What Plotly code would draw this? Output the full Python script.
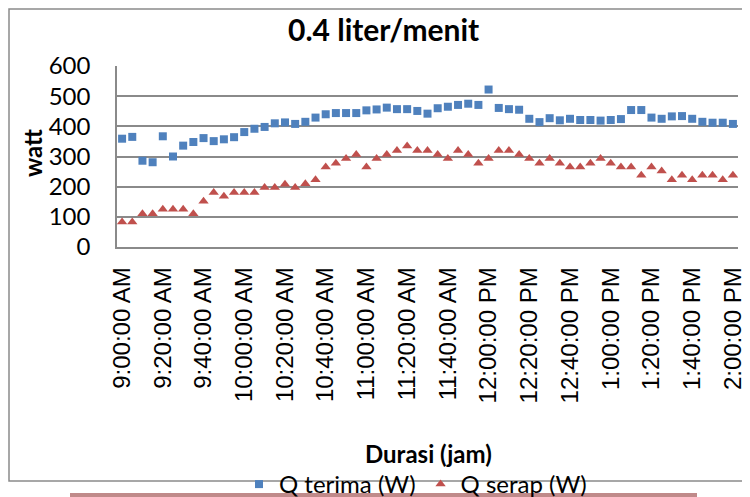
import plotly.graph_objects as go
import pandas as pd

# 5-minute samples, 9:00 AM to 2:00 PM
times = pd.date_range("2000-01-01 09:00", periods=61, freq="5min")

q_terima = [359, 365, 286, 281, 367, 300, 336, 348, 361, 351,
            357, 364, 381, 392, 398, 410, 413, 408, 415, 429,
            440, 444, 444, 444, 453, 456, 462, 457, 457, 451,
            442, 460, 465, 471, 475, 471, 522, 461, 457, 455,
            425, 414, 427, 420, 425, 421, 421, 419, 421, 424,
            454, 454, 429, 425, 433, 434, 425, 415, 412, 412, 408]

q_serap = [83, 83, 110, 110, 125, 125, 125, 110, 152, 181,
           168, 181, 181, 181, 197, 197, 208, 197, 210, 223,
           265, 278, 293, 307, 265, 293, 307, 320, 335, 320,
           320, 307, 293, 320, 307, 278, 293, 320, 320, 307,
           293, 278, 293, 278, 265, 265, 278, 293, 278, 265,
           265, 238, 265, 252, 223, 238, 223, 238, 238, 223, 238]

series_names = ["Q terima (W)", "Q serap (W)"]
y_ticks = [0, 100, 200, 300, 400, 500, 600]

# page has an 8px body margin, so the figure is 742x489 at (8, 8)
W, H, OFF = 742, 489, 8
# plot area in page pixels
L, R, T, B = 117, 738, 66, 247


def px_x(px):
    return (px - L) / (R - L)


def px_y(py):
    return (B - py) / (B - T)


fig = go.Figure()
fig.add_trace(go.Scatter(
    x=times, y=q_terima, mode="markers", name=series_names[0],
    marker=dict(symbol="square", size=8, color="#4F81BD"),
))
fig.add_trace(go.Scatter(
    x=times, y=q_serap, mode="markers", name=series_names[1],
    marker=dict(symbol="triangle-up", size=9, color="#C0504D"),
))

half = pd.Timedelta(minutes=2.5)
fig.update_xaxes(
    type="date", automargin=False,
    range=[times[0] - half, times[-1] + half],
    tick0=times[0], dtick=20 * 60 * 1000,
    tickformat="%-I:%M:%S %p", tickangle=-90,
    tickfont=dict(family="Liberation Sans, Arial", size=24, color="black"),
    ticklabelstandoff=9,
    showgrid=False, showline=True, linecolor="#8a8a8a", linewidth=1.5,
    zeroline=False,
)
fig.update_yaxes(
    automargin=False,
    range=[0, 600], tickvals=y_ticks,
    tickfont=dict(family="Lato", size=24, color="black"),
    ticklabelstandoff=20,
    showgrid=True, gridcolor="#8a8a8a", gridwidth=1.5,
    showline=True, linecolor="#8a8a8a", linewidth=1.5,
    zeroline=False,
)

fig.update_layout(
    width=W, height=H,
    margin=dict(l=L - OFF, r=W - (R - OFF), t=T - OFF, b=H - (B - OFF),
                autoexpand=False),
    paper_bgcolor="white", plot_bgcolor="white",
    showlegend=True,
    legend=dict(
        orientation="h", x=px_x(239), xanchor="left",
        y=px_y(462), yanchor="top",
        font=dict(family="Lato", size=24, color="black"),
        bgcolor="rgba(0,0,0,0)",
    ),
    annotations=[
        dict(text="<b>0.4 liter/menit</b>", x=px_x(383), y=px_y(29),
             xanchor="center", yanchor="middle",
             xref="paper", yref="paper", showarrow=False,
             font=dict(family="Lato", size=30, color="black")),
        dict(text="<b>watt</b>", x=px_x(32), y=px_y(153),
             xanchor="center", yanchor="middle",
             xref="paper", yref="paper", showarrow=False, textangle=-90,
             font=dict(family="Lato", size=24, color="black")),
        dict(text="<b>Durasi (jam)</b>", x=px_x(428), y=px_y(453),
             xanchor="center", yanchor="middle",
             xref="paper", yref="paper", showarrow=False,
             font=dict(family="Lato", size=24, color="black")),
    ],
    shapes=[
        dict(type="rect", xref="paper", yref="paper",
             x0=px_x(9), x1=px_x(760), y0=px_y(481), y1=px_y(9),
             line=dict(color="#8a8a8a", width=1.5), layer="below"),
        dict(type="rect", xref="paper", yref="paper",
             x0=px_x(70), x1=px_x(697), y0=px_y(502), y1=px_y(493),
             line=dict(width=0), fillcolor="rgba(150,60,60,0.6)",
             layer="below"),
    ],
)

fig.write_html("out.html")
